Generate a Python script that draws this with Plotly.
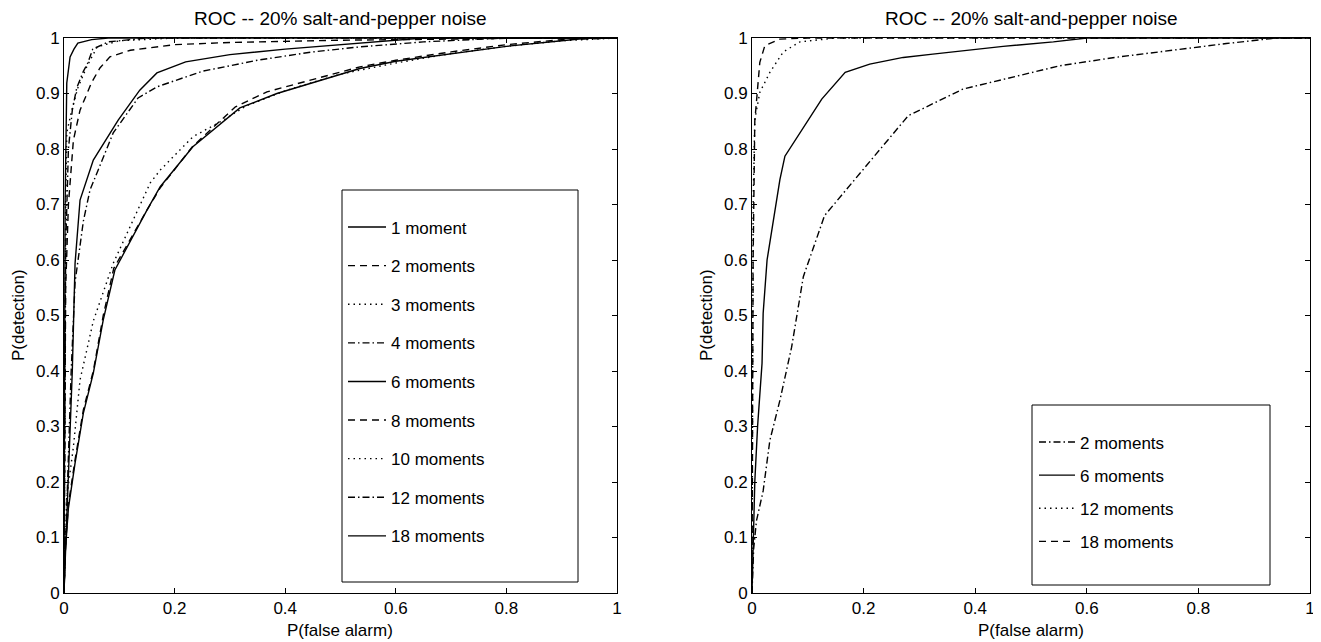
import plotly.graph_objects as go

# page body has an 8px margin; figure sized to fit the 1321x642 window
OFF = 8
W, H = 1321 - OFF, 642 - OFF

# ---------------- data: left panel ----------------
L_names = ["1 moment", "2 moments", "3 moments", "4 moments", "6 moments",
           "8 moments", "10 moments", "12 moments", "18 moments"]

L1_x = [0, 0.002, 0.008, 0.02, 0.035, 0.053, 0.071, 0.092, 0.15, 0.174, 0.233, 0.318, 0.385, 0.45, 0.535, 0.6, 0.7, 0.8, 0.9, 0.95, 1]
L1_y = [0, 0.07, 0.153, 0.234, 0.324, 0.396, 0.492, 0.582, 0.69, 0.732, 0.804, 0.874, 0.9, 0.92, 0.945, 0.958, 0.972, 0.985, 0.995, 1, 1]

L2_x = [0, 0.002, 0.008, 0.02, 0.035, 0.053, 0.071, 0.09, 0.15, 0.174, 0.233, 0.31, 0.367, 0.45, 0.535, 0.6, 0.7, 0.8, 0.9, 1]
L2_y = [0, 0.075, 0.16, 0.24, 0.33, 0.40, 0.50, 0.585, 0.69, 0.73, 0.805, 0.876, 0.903, 0.925, 0.948, 0.96, 0.975, 0.988, 0.997, 1]

L3_x = [0, 0.002, 0.005, 0.017, 0.029, 0.053, 0.089, 0.156, 0.174, 0.233, 0.288, 0.33, 0.4, 0.5, 0.6, 0.7, 0.8, 0.9, 1]
L3_y = [0, 0.08, 0.173, 0.263, 0.384, 0.49, 0.594, 0.739, 0.762, 0.822, 0.852, 0.878, 0.905, 0.935, 0.955, 0.972, 0.985, 0.995, 1]

L4_x = [0, 0.003, 0.008, 0.013, 0.02, 0.035, 0.047, 0.089, 0.134, 0.168, 0.25, 0.35, 0.45, 0.535, 0.65, 0.8, 1]
L4_y = [0, 0.1, 0.25, 0.4, 0.56, 0.67, 0.726, 0.829, 0.892, 0.912, 0.94, 0.96, 0.975, 0.984, 0.993, 1, 1]

L6_x = [0, 0.003, 0.007, 0.011, 0.015, 0.02, 0.029, 0.053, 0.098, 0.137, 0.168, 0.22, 0.3, 0.4, 0.52, 0.65, 1]
L6_y = [0, 0.08, 0.18, 0.26, 0.4, 0.594, 0.708, 0.78, 0.852, 0.906, 0.937, 0.957, 0.97, 0.98, 0.99, 1, 1]

L8_x = [0, 0.001, 0.003, 0.008, 0.017, 0.029, 0.05, 0.065, 0.083, 0.12, 0.2, 0.3, 0.5, 0.7, 0.85, 1]
L8_y = [0, 0.3, 0.55, 0.7, 0.816, 0.87, 0.92, 0.946, 0.966, 0.978, 0.988, 0.992, 0.996, 0.998, 1, 1]

L10_x = [0, 0.001, 0.003, 0.005, 0.014, 0.025, 0.041, 0.06, 0.1, 0.2, 1]
L10_y = [0, 0.4, 0.7, 0.829, 0.87, 0.91, 0.948, 0.984, 0.995, 1, 1]

L12_x = [0, 0.001, 0.003, 0.008, 0.015, 0.023, 0.035, 0.043, 0.052, 0.08, 0.15, 1]
L12_y = [0, 0.35, 0.62, 0.8, 0.87, 0.91, 0.94, 0.955, 0.98, 0.993, 1, 1]

L18_x = [0, 0.0005, 0.002, 0.005, 0.011, 0.018, 0.025, 0.05, 0.08, 1]
L18_y = [0, 0.3, 0.7, 0.919, 0.966, 0.98, 0.991, 0.997, 1, 1]

# ---------------- data: right panel ----------------
R_names = ["2 moments", "6 moments", "12 moments", "18 moments"]

R2_x = [0, 0.003, 0.008, 0.02, 0.032, 0.05, 0.071, 0.092, 0.13, 0.28, 0.378, 0.468, 0.552, 0.65, 0.75, 0.85, 0.94, 1]
R2_y = [0, 0.08, 0.13, 0.184, 0.275, 0.347, 0.443, 0.57, 0.68, 0.86, 0.908, 0.929, 0.95, 0.965, 0.978, 0.99, 1, 1]

R6_x = [0, 0.002, 0.005, 0.01, 0.018, 0.02, 0.027, 0.05, 0.059, 0.125, 0.167, 0.211, 0.271, 0.324, 0.45, 0.54, 0.6, 1]
R6_y = [0, 0.1, 0.2, 0.3, 0.414, 0.504, 0.6, 0.745, 0.787, 0.89, 0.938, 0.953, 0.965, 0.971, 0.985, 0.993, 1, 1]

R12_x = [0, 0.001, 0.002, 0.005, 0.014, 0.032, 0.056, 0.086, 0.15, 1]
R12_y = [0, 0.35, 0.7, 0.853, 0.902, 0.938, 0.975, 0.993, 1, 1]

R18_x = [0, 0.0005, 0.002, 0.005, 0.009, 0.014, 0.023, 0.05, 0.1, 1]
R18_y = [0, 0.3, 0.6, 0.85, 0.895, 0.956, 0.986, 0.998, 1, 1]

x_ticks = [0, 0.2, 0.4, 0.6, 0.8, 1]
x_ticklabels = ["0", "0.2", "0.4", "0.6", "0.8", "1"]
y_ticks = [0, 0.1, 0.2, 0.3, 0.4, 0.5, 0.6, 0.7, 0.8, 0.9, 1]
y_ticklabels = ["0", "0.1", "0.2", "0.3", "0.4", "0.5", "0.6", "0.7", "0.8", "0.9", "1"]

title_text = "ROC -- 20% salt-and-pepper noise"

# ---------------- styles ----------------
SOLID = "solid"
DASH = "7px,5px"
DOT = "1.5px,4px"
DASHDOT = "7px,3px,1.5px,3px"

FONT = "Liberation Sans, Arial, Helvetica, sans-serif"
FS = 17

left_series = [
    (L1_x, L1_y, SOLID), (L2_x, L2_y, DASH), (L3_x, L3_y, DOT),
    (L4_x, L4_y, DASHDOT), (L6_x, L6_y, SOLID), (L8_x, L8_y, DASH),
    (L10_x, L10_y, DOT), (L12_x, L12_y, DASHDOT), (L18_x, L18_y, SOLID),
]
right_series = [
    (R2_x, R2_y, DASHDOT), (R6_x, R6_y, SOLID),
    (R12_x, R12_y, DOT), (R18_x, R18_y, DASH),
]

fig = go.Figure()
for name, (xs, ys, dash) in zip(L_names, left_series):
    fig.add_trace(go.Scatter(
        x=xs, y=ys, mode="lines", name=name, legendgroup="L" + name,
        line=dict(color="black", width=1.4, dash=dash),
        xaxis="x", yaxis="y", legend="legend"))
for name, (xs, ys, dash) in zip(R_names, right_series):
    fig.add_trace(go.Scatter(
        x=xs, y=ys, mode="lines", name=name, legendgroup="R" + name,
        line=dict(color="black", width=1.4, dash=dash),
        xaxis="x2", yaxis="y2", legend="legend2"))

def px_x(p):
    return (p - OFF) / W

def px_y(p):
    return 1 - (p - OFF) / H

ydom = [px_y(593), px_y(38)]
axis_common = dict(
    range=[0, 1], showline=True, linecolor="black", linewidth=1,
    mirror="allticks", ticks="inside", ticklen=5, tickcolor="black",
    showgrid=False, zeroline=False, automargin=False,
    tickfont=dict(family=FONT, size=FS, color="black"),
)

def ann(text, x, y, angle=0, size=FS):
    return dict(text=text, x=px_x(x), y=px_y(y), xref="paper", yref="paper",
                xanchor="center", yanchor="middle", showarrow=False,
                textangle=angle, font=dict(family=FONT, size=size, color="black"))

fig.update_layout(
    width=W, height=H,
    margin=dict(l=0, r=0, t=0, b=0, pad=0, autoexpand=False),
    paper_bgcolor="white", plot_bgcolor="white",
    font=dict(family=FONT, color="black"),
    xaxis=dict(domain=[px_x(64), px_x(617)], anchor="y",
               tickvals=x_ticks, ticktext=x_ticklabels, **axis_common),
    yaxis=dict(domain=ydom, anchor="x",
               tickvals=y_ticks, ticktext=y_ticklabels, **axis_common),
    xaxis2=dict(domain=[px_x(752), px_x(1310)], anchor="y2",
                tickvals=x_ticks, ticktext=x_ticklabels, **axis_common),
    yaxis2=dict(domain=ydom, anchor="x2",
                tickvals=y_ticks, ticktext=y_ticklabels, **axis_common),
    legend=dict(x=px_x(343), y=px_y(209.5), xanchor="left", yanchor="top",
                bgcolor="rgba(0,0,0,0)", borderwidth=0,
                font=dict(family=FONT, size=FS, color="black"),
                tracegroupgap=13.5, itemwidth=38),
    legend2=dict(x=px_x(1034), y=px_y(424.5), xanchor="left", yanchor="top",
                 bgcolor="rgba(0,0,0,0)", borderwidth=0,
                 font=dict(family=FONT, size=FS, color="black"),
                 tracegroupgap=8, itemwidth=36),
    shapes=[
        dict(type="rect", xref="paper", yref="paper",
             x0=px_x(342), x1=px_x(578), y0=px_y(582), y1=px_y(190),
             line=dict(color="black", width=1), fillcolor="white", layer="below"),
        dict(type="rect", xref="paper", yref="paper",
             x0=px_x(1032), x1=px_x(1270), y0=px_y(585), y1=px_y(405),
             line=dict(color="black", width=1), fillcolor="white", layer="below"),
    ],
    annotations=[
        ann(title_text, 340, 18, size=19),
        ann(title_text, 1031, 18, size=19),
        ann("P(false alarm)", 340, 630),
        ann("P(false alarm)", 1031, 630),
        ann("P(detection)", 18, 315, angle=-90),
        ann("P(detection)", 706, 315, angle=-90),
    ],
)

fig.write_html("out.html")
